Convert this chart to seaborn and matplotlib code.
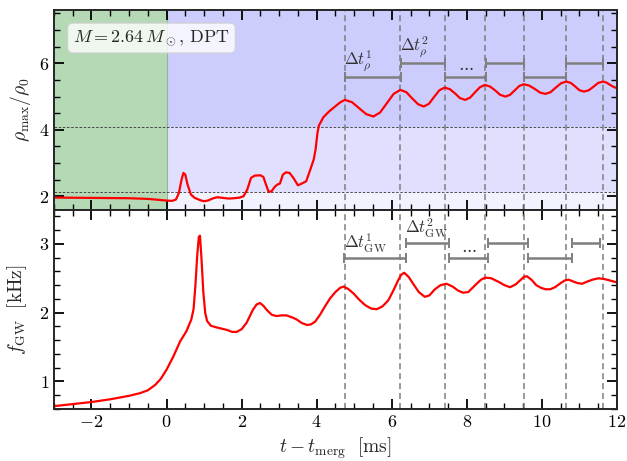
import numpy as np
import pandas as pd
import matplotlib
matplotlib.use("Agg")
import matplotlib.pyplot as plt
import seaborn as sns
from matplotlib.ticker import MultipleLocator

# ---------------- data ----------------
t_rho = [-3, -2, -1, -0.5, -0.2, 0, 0.15, 0.25, 0.33, 0.4, 0.45, 0.5, 0.56, 0.65, 0.75,
         0.9, 1.0, 1.1, 1.25, 1.35, 1.5, 1.65, 1.8, 1.95, 2.05, 2.15, 2.25, 2.35, 2.5,
         2.58, 2.65, 2.72, 2.8, 2.88, 2.95, 3.02, 3.1, 3.18, 3.28, 3.38, 3.5, 3.6, 3.72,
         3.83, 3.92, 3.97, 4.02, 4.06, 4.18, 4.33, 4.49, 4.62, 4.75,
         4.94, 5.13, 5.32, 5.51, 5.69, 5.87, 6.05, 6.23, 6.39, 6.54, 6.70, 6.85,
         6.99, 7.13, 7.27, 7.41, 7.55, 7.69, 7.82, 7.96, 8.09, 8.22, 8.35, 8.48,
         8.62, 8.76, 8.89, 9.03, 9.15, 9.28, 9.40, 9.52, 9.66, 9.81, 9.95, 10.09,
         10.23, 10.37, 10.51, 10.65, 10.77, 10.89, 11.0, 11.12, 11.25, 11.38, 11.5,
         11.63, 11.72, 11.82, 11.91, 12.0]
rho = [1.96, 1.95, 1.94, 1.92, 1.89, 1.87, 1.86, 1.9, 2.1, 2.5, 2.7, 2.65, 2.35, 2.05, 1.95,
       1.88, 1.85, 1.87, 1.94, 1.97, 1.95, 1.93, 1.94, 1.96, 2.0, 2.2, 2.55, 2.62, 2.63,
       2.58, 2.35, 2.13, 2.15, 2.28, 2.35, 2.38, 2.65, 2.72, 2.7, 2.55, 2.33, 2.38, 2.45,
       2.8, 3.1, 3.4, 3.9, 4.13, 4.38, 4.55, 4.7, 4.82, 4.9,
       4.83, 4.65, 4.47, 4.4, 4.52, 4.8, 5.08, 5.2, 5.13, 4.95, 4.77, 4.7,
       4.78, 4.99, 5.19, 5.27, 5.22, 5.09, 4.95, 4.9, 4.97, 5.13, 5.28, 5.35,
       5.3, 5.18, 5.05, 5.0, 5.05, 5.19, 5.32, 5.37, 5.33, 5.23, 5.12, 5.08,
       5.13, 5.27, 5.40, 5.45, 5.41, 5.3, 5.19, 5.15, 5.19, 5.3, 5.41,
       5.45, 5.42, 5.35, 5.29, 5.25]

t_gw = [-3, -2.5, -2, -1.5, -1, -0.7, -0.5, -0.3, -0.15, 0, 0.18, 0.36, 0.53, 0.66, 0.72,
        0.77, 0.82, 0.86, 0.89, 0.93, 0.98, 1.03, 1.08, 1.18, 1.3, 1.45, 1.6, 1.75, 1.87,
        2.0, 2.13, 2.3, 2.4, 2.49, 2.58, 2.67, 2.8, 2.93, 3.05, 3.2, 3.35, 3.47, 3.6, 3.75,
        3.85, 3.96, 4.09, 4.22, 4.36, 4.5, 4.62, 4.72, 4.85, 4.98, 5.13, 5.29, 5.45, 5.6,
        5.75, 5.91, 6.05, 6.17, 6.25, 6.33, 6.45, 6.57, 6.72, 6.88, 7.0, 7.15, 7.3, 7.46,
        7.62, 7.77, 7.9, 8.04, 8.15, 8.26, 8.38, 8.49, 8.65, 8.84, 9.0, 9.15, 9.3, 9.42,
        9.52, 9.6, 9.72, 9.85, 9.98, 10.1, 10.22, 10.35, 10.5, 10.62, 10.71, 10.85, 10.95,
        11.07, 11.2, 11.35, 11.51, 11.65, 11.8, 12.0]
f_gw = [0.64, 0.67, 0.70, 0.74, 0.79, 0.83, 0.87, 0.95, 1.04, 1.17, 1.36, 1.58, 1.73, 1.9, 2.05,
        2.4, 2.85, 3.1, 3.12, 2.8, 2.3, 2.0, 1.88, 1.81, 1.79, 1.77, 1.75, 1.72, 1.72,
        1.76, 1.85, 2.04, 2.12, 2.14, 2.1, 2.04, 1.97, 1.95, 1.96, 1.96, 1.93, 1.9, 1.85, 1.82,
        1.83, 1.87, 1.97, 2.09, 2.21, 2.3, 2.36, 2.38, 2.34, 2.28, 2.19, 2.11, 2.06, 2.05,
        2.09, 2.18, 2.33, 2.47, 2.55, 2.58, 2.52, 2.42, 2.3, 2.23, 2.25, 2.34, 2.4, 2.42,
        2.38, 2.32, 2.29, 2.3, 2.36, 2.42, 2.48, 2.51, 2.5, 2.45, 2.4, 2.37, 2.41, 2.47,
        2.52, 2.53, 2.48, 2.4, 2.36, 2.34, 2.34, 2.37, 2.43, 2.47, 2.48, 2.45, 2.43,
        2.42, 2.45, 2.48, 2.5, 2.49, 2.47, 2.44]

rho_thresholds = [2.12, 4.08]
peak_lines = [4.75, 6.23, 7.42, 8.48, 9.52, 10.65, 11.63]

# interval bars (start, end, level)
rho_bar_start = [4.76, 6.25, 7.43, 8.50, 9.52, 10.65]
rho_bar_end = [6.25, 7.43, 8.50, 9.52, 10.65, 11.63]
rho_bar_level = [5.6, 6.02, 5.6, 6.02, 5.6, 6.02]
gw_bar_start = [4.74, 6.37, 7.53, 8.56, 9.62, 10.79]
gw_bar_end = [6.37, 7.53, 8.56, 9.62, 10.79, 11.56]
gw_bar_level = [2.8, 3.02, 2.8, 3.02, 2.8, 3.02]

# ---------------- style ----------------
sns.set_style("ticks")
plt.rcParams.update({
    "font.family": ["cmr10", "DejaVu Serif"],
    "mathtext.fontset": "cm",
    "axes.formatter.use_mathtext": True,
    "axes.unicode_minus": True,
    "axes.linewidth": 1.4,
    "xtick.direction": "in", "ytick.direction": "in",
    "xtick.top": True, "ytick.right": True,
    "xtick.major.size": 7.5, "ytick.major.size": 7.5,
    "xtick.minor.size": 4.5, "ytick.minor.size": 4.5,
    "xtick.major.width": 1.3, "ytick.major.width": 1.3,
    "xtick.minor.width": 1.0, "ytick.minor.width": 1.0,
    "xtick.color": "black", "ytick.color": "black",
    "xtick.labelsize": 13, "ytick.labelsize": 13,
})

fig, (ax1, ax2) = plt.subplots(2, 1, figsize=(6.27, 4.61), dpi=100, sharex=True)
fig.subplots_adjust(left=0.086, right=0.984, top=0.978, bottom=0.113, hspace=0)

XMIN, XMAX = -3, 12
Y1MIN, Y1MAX = 1.6, 7.6
Y2MIN, Y2MAX = 0.6, 3.5

# backgrounds
ax1.axvspan(XMIN, 0, color="#b4d9b4", zorder=0, lw=0)
ax1.axvline(0, color="#8fb59a", lw=0.8, zorder=0.5)
ax1.fill_between([0, XMAX], rho_thresholds[1], Y1MAX, color="#ccccfd", lw=0, zorder=0)
ax1.fill_between([0, XMAX], rho_thresholds[0], rho_thresholds[1], color="#e0e0fe", lw=0, zorder=0)
ax1.fill_between([0, XMAX], Y1MIN, rho_thresholds[0], color="#f2f2fe", lw=0, zorder=0)
for th in rho_thresholds:
    ax1.axhline(th, color="#333333", lw=0.6, ls=(0, (3, 2)), zorder=1)

for ax in (ax1, ax2):
    for xl in peak_lines:
        ax.axvline(xl, color="#7f7f7f", lw=1.1, ls=(0, (4, 2.5)), zorder=1)

# curves
sns.lineplot(x=t_rho, y=rho, ax=ax1, color="red", lw=1.6, zorder=3, estimator=None, sort=False)
sns.lineplot(x=t_gw, y=f_gw, ax=ax2, color="red", lw=1.6, zorder=3, estimator=None, sort=False)

# interval bars
def bars(ax, s, e, lv):
    s = np.asarray(s); e = np.asarray(e); lv = np.asarray(lv)
    ax.errorbar((s + e) / 2, lv, xerr=(e - s) / 2, fmt="none", ecolor="#7f7f7f",
                elinewidth=1.8, capsize=3.5, capthick=1.4, zorder=2)

bars(ax1, rho_bar_start, rho_bar_end, rho_bar_level)
bars(ax2, gw_bar_start, gw_bar_end, gw_bar_level)

tc = "#333333"
ax1.text(rho_bar_start[0] - 0.02, rho_bar_level[0] + 0.1, r"$\Delta t_\rho^1$", fontsize=12, color=tc, ha="left", va="bottom")
ax1.text(rho_bar_start[1] - 0.02, rho_bar_level[1] + 0.1, r"$\Delta t_\rho^2$", fontsize=12, color=tc, ha="left", va="bottom")
ax1.text((rho_bar_start[2] + rho_bar_end[2]) / 2, rho_bar_level[2] + 0.08, r"$\cdots$", fontsize=12, color=tc, ha="center", va="bottom")
ax2.text(gw_bar_start[0] - 0.02, gw_bar_level[0] + 0.04, r"$\Delta t_{\rm GW}^1$", fontsize=12, color=tc, ha="left", va="bottom")
ax2.text(gw_bar_start[1] - 0.02, gw_bar_level[1] + 0.04, r"$\Delta t_{\rm GW}^2$", fontsize=12, color=tc, ha="left", va="bottom")
ax2.text((gw_bar_start[2] + gw_bar_end[2]) / 2, gw_bar_level[2] + 0.03, r"$\cdots$", fontsize=12, color=tc, ha="center", va="bottom")

# annotation box
ax1.text(0.034, 0.86, r"$M = 2.64\,M_\odot$, DPT", transform=ax1.transAxes, fontsize=13,
         ha="left", va="center", zorder=5,
         bbox=dict(boxstyle="round,pad=0.3", fc="white", ec="#d0d0d0", alpha=0.8))

# axes
ax1.set_xlim(XMIN, XMAX)
ax1.set_ylim(Y1MIN, Y1MAX)
ax2.set_ylim(Y2MIN, Y2MAX)
ax2.xaxis.set_major_locator(MultipleLocator(2))
ax2.xaxis.set_minor_locator(MultipleLocator(0.5))
ax1.yaxis.set_major_locator(MultipleLocator(2))
ax1.yaxis.set_minor_locator(MultipleLocator(0.5))
ax2.yaxis.set_major_locator(MultipleLocator(1))
ax2.yaxis.set_minor_locator(MultipleLocator(0.2))
for ax in (ax1, ax2):
    ax.tick_params(which="both", top=True, right=True, direction="in")
    for sp in ax.spines.values():
        sp.set_visible(True)
        sp.set_zorder(6)
ax1.tick_params(labelbottom=False)

ax1.set_ylabel(r"$\rho_{\rm max}/\rho_0$", fontsize=14)
ax2.set_ylabel(r"$f_{\rm GW}\ \ [{\rm kHz}]$", fontsize=14)
ax2.set_xlabel(r"$t - t_{\rm merg}\ \ [{\rm ms}]$", fontsize=14)
ax1.set_xlabel("")
ax1.yaxis.set_label_coords(-0.038, 0.5)
ax2.yaxis.set_label_coords(-0.044, 0.5)

fig.savefig("out.png", dpi=100)
